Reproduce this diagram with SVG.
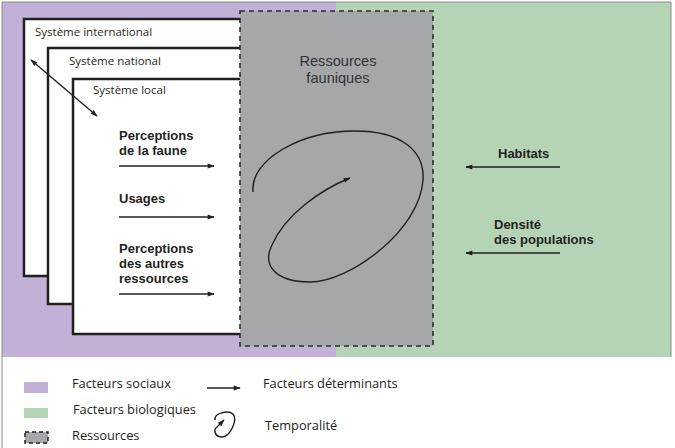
<svg xmlns="http://www.w3.org/2000/svg" width="675" height="448" viewBox="0 0 675 448">
<defs>
<style>
.t{font-family:"Open Sans","Liberation Sans",sans-serif;font-size:11.5px;fill:#231f20}
.l{font-family:"Open Sans","Liberation Sans",sans-serif;font-size:12.8px;fill:#231f20}
.b{font-family:"Liberation Sans",Arial,sans-serif;font-size:13px;font-weight:bold;fill:#231f20}
.r{font-family:"Liberation Sans",Arial,sans-serif;font-size:14.6px;fill:#333}
.box{fill:#fff;stroke:#231f20;stroke-width:2.5}
.ln{stroke:#231f20;stroke-width:1.4;fill:none}
</style>
<marker id="ah" viewBox="0 0 10 10" refX="9" refY="5" markerWidth="10" markerHeight="7" markerUnits="userSpaceOnUse" orient="auto-start-reverse"><path d="M0,1.5 L10,5 L0,8.5 Z" fill="#231f20"/></marker>
</defs>
<rect x="0" y="0" width="675" height="448" fill="#fff"/>
<rect x="2" y="2" width="335" height="355" fill="#c1b1d6"/>
<rect x="336" y="2" width="335" height="355" fill="#b5d4b6"/>
<path d="M2,448 V2 H671 V357" fill="none" stroke="#8a8a8a" stroke-width="1"/>
<g id="international"><rect class="box" x="24" y="19" width="230" height="257"/><text class="t" x="35" y="36">Système international</text></g>
<g id="national"><rect class="box" x="48" y="48" width="206" height="256"/><text class="t" x="69" y="65">Système national</text></g>
<g id="local"><rect class="box" x="73" y="79" width="181" height="255"/><text class="t" x="93" y="94">Système local</text>
<text class="b" x="119" y="140">Perceptions</text><text class="b" x="119" y="155">de la faune</text>
<text class="b" x="119" y="203">Usages</text>
<text class="b" x="119" y="253">Perceptions</text><text class="b" x="119" y="268">des autres</text><text class="b" x="119" y="283">ressources</text></g>
<g id="ressources"><rect x="240" y="11" width="193" height="335" fill="#a6a7aa" stroke="#2d2d2d" stroke-width="1.6" stroke-dasharray="5,4"/>
<text class="r" x="338" y="66" text-anchor="middle">Ressources</text>
<text class="r" x="338" y="83" text-anchor="middle">fauniques</text></g>
<g id="habitats"><text class="b" x="498" y="158">Habitats</text></g>
<g id="densite"><text class="b" x="494" y="229">Densité</text><text class="b" x="494" y="244">des populations</text></g>
<g id="connectors">
<line class="ln" x1="31" y1="60" x2="97" y2="116" marker-start="url(#ah)" marker-end="url(#ah)"/>
<line class="ln" x1="119" y1="166" x2="214" y2="166" marker-end="url(#ah)"/>
<line class="ln" x1="119" y1="217" x2="214" y2="217" marker-end="url(#ah)"/>
<line class="ln" x1="119" y1="294" x2="214" y2="294" marker-end="url(#ah)"/>
<line class="ln" x1="560" y1="167" x2="466" y2="167" marker-end="url(#ah)"/>
<line class="ln" x1="560" y1="253" x2="466" y2="253" marker-end="url(#ah)"/>
<path class="ln" stroke-width="1.6" d="M253,192 C250,160 300,131 355,131 C400,131 425,150 423,180 C420,230 350,282 310,282 C275,282 262,265 272,245 C285,215 320,190 350,178" marker-end="url(#ah)"/>
</g>
<g id="legend">
<rect x="24" y="382" width="24" height="11" fill="#c1b1d6"/>
<text class="l" x="72" y="388">Facteurs sociaux</text>
<rect x="24" y="408" width="24" height="10" fill="#b5d4b6"/>
<text class="l" x="73" y="414">Facteurs biologiques</text>
<rect x="25" y="432" width="23" height="11" fill="#a6a7aa" stroke="#231f20" stroke-width="1.5" stroke-dasharray="4,3"/>
<text class="l" x="72" y="440">Ressources</text>
<line class="ln" x1="207" y1="388" x2="240" y2="388" marker-end="url(#ah)"/>
<text class="l" x="263" y="388">Facteurs déterminants</text>
<path class="ln" stroke-width="1.5" d="M215,420 C214,413 228,410 233,414 C238,420 230,437 222,437 C215,437 213,430 217,427 L224,420" marker-end="url(#ah)"/>
<text class="l" x="265" y="430">Temporalité</text>
</g>
</svg>
